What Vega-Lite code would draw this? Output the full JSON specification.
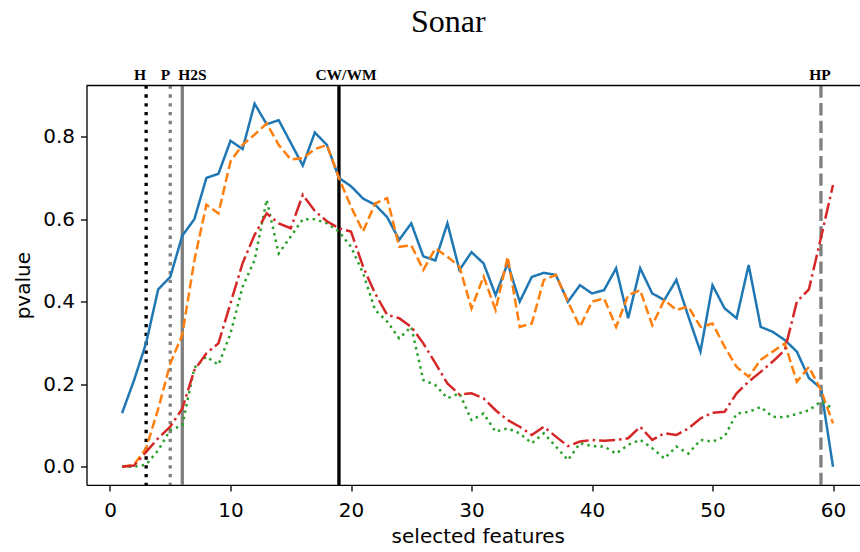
{
  "$schema": "https://vega.github.io/schema/vega-lite/v6.json",
  "autosize": "none",
  "width": 773.5,
  "height": 399.4,
  "padding": {"left": 86.5, "top": 85.5, "right": 0, "bottom": 67.1},
  "background": "white",
  "config": {
    "view": {"stroke": null},
    "axis": {
      "grid": false,
      "domainColor": "black",
      "domainWidth": 1.33,
      "tickColor": "black",
      "tickWidth": 1.33,
      "tickSize": 6,
      "labelFont": "DejaVu Sans",
      "labelFontSize": 20,
      "labelColor": "black",
      "titleFont": "DejaVu Sans",
      "titleFontSize": 20,
      "titleFontWeight": "normal",
      "titleColor": "black"
    }
  },
  "title": {
    "text": "Sonar",
    "font": "Liberation Serif",
    "fontSize": 32,
    "fontWeight": "normal",
    "color": "black",
    "anchor": "middle",
    "frame": "group",
    "dx": -25,
    "dy": 30,
    "offset": 34,
    "baseline": "alphabetic"
  },
  "datasets": {
    "series": [
      {"k": 1, "s": "blue", "p": 0.13}, {"k": 2, "s": "blue", "p": 0.21}, {"k": 3, "s": "blue", "p": 0.30}, {"k": 4, "s": "blue", "p": 0.43}, {"k": 5, "s": "blue", "p": 0.46},
      {"k": 6, "s": "blue", "p": 0.56}, {"k": 7, "s": "blue", "p": 0.60}, {"k": 8, "s": "blue", "p": 0.70}, {"k": 9, "s": "blue", "p": 0.71}, {"k": 10, "s": "blue", "p": 0.79},
      {"k": 11, "s": "blue", "p": 0.77}, {"k": 12, "s": "blue", "p": 0.88}, {"k": 13, "s": "blue", "p": 0.83}, {"k": 14, "s": "blue", "p": 0.84}, {"k": 15, "s": "blue", "p": 0.785},
      {"k": 16, "s": "blue", "p": 0.73}, {"k": 17, "s": "blue", "p": 0.81}, {"k": 18, "s": "blue", "p": 0.78}, {"k": 19, "s": "blue", "p": 0.70}, {"k": 20, "s": "blue", "p": 0.68},
      {"k": 21, "s": "blue", "p": 0.65}, {"k": 22, "s": "blue", "p": 0.635}, {"k": 23, "s": "blue", "p": 0.605}, {"k": 24, "s": "blue", "p": 0.55}, {"k": 25, "s": "blue", "p": 0.59},
      {"k": 26, "s": "blue", "p": 0.51}, {"k": 27, "s": "blue", "p": 0.50}, {"k": 28, "s": "blue", "p": 0.59}, {"k": 29, "s": "blue", "p": 0.477}, {"k": 30, "s": "blue", "p": 0.52},
      {"k": 31, "s": "blue", "p": 0.493}, {"k": 32, "s": "blue", "p": 0.416}, {"k": 33, "s": "blue", "p": 0.493}, {"k": 34, "s": "blue", "p": 0.40}, {"k": 35, "s": "blue", "p": 0.46},
      {"k": 36, "s": "blue", "p": 0.47}, {"k": 37, "s": "blue", "p": 0.465}, {"k": 38, "s": "blue", "p": 0.40}, {"k": 39, "s": "blue", "p": 0.44}, {"k": 40, "s": "blue", "p": 0.42},
      {"k": 41, "s": "blue", "p": 0.428}, {"k": 42, "s": "blue", "p": 0.481}, {"k": 43, "s": "blue", "p": 0.36}, {"k": 44, "s": "blue", "p": 0.481}, {"k": 45, "s": "blue", "p": 0.42},
      {"k": 46, "s": "blue", "p": 0.404}, {"k": 47, "s": "blue", "p": 0.453}, {"k": 48, "s": "blue", "p": 0.364}, {"k": 49, "s": "blue", "p": 0.279}, {"k": 50, "s": "blue", "p": 0.44},
      {"k": 51, "s": "blue", "p": 0.384}, {"k": 52, "s": "blue", "p": 0.36}, {"k": 53, "s": "blue", "p": 0.489}, {"k": 54, "s": "blue", "p": 0.339}, {"k": 55, "s": "blue", "p": 0.327},
      {"k": 56, "s": "blue", "p": 0.307}, {"k": 57, "s": "blue", "p": 0.279}, {"k": 58, "s": "blue", "p": 0.215}, {"k": 59, "s": "blue", "p": 0.19}, {"k": 60, "s": "blue", "p": 0.0},

      {"k": 1, "s": "orange", "p": 0.0}, {"k": 2, "s": "orange", "p": 0.005}, {"k": 3, "s": "orange", "p": 0.045}, {"k": 4, "s": "orange", "p": 0.14}, {"k": 5, "s": "orange", "p": 0.25},
      {"k": 6, "s": "orange", "p": 0.32}, {"k": 7, "s": "orange", "p": 0.50}, {"k": 8, "s": "orange", "p": 0.635}, {"k": 9, "s": "orange", "p": 0.614}, {"k": 10, "s": "orange", "p": 0.74},
      {"k": 11, "s": "orange", "p": 0.78}, {"k": 12, "s": "orange", "p": 0.805}, {"k": 13, "s": "orange", "p": 0.832}, {"k": 14, "s": "orange", "p": 0.78}, {"k": 15, "s": "orange", "p": 0.745},
      {"k": 16, "s": "orange", "p": 0.748}, {"k": 17, "s": "orange", "p": 0.77}, {"k": 18, "s": "orange", "p": 0.78}, {"k": 19, "s": "orange", "p": 0.70}, {"k": 20, "s": "orange", "p": 0.63},
      {"k": 21, "s": "orange", "p": 0.57}, {"k": 22, "s": "orange", "p": 0.638}, {"k": 23, "s": "orange", "p": 0.651}, {"k": 24, "s": "orange", "p": 0.533}, {"k": 25, "s": "orange", "p": 0.537},
      {"k": 26, "s": "orange", "p": 0.477}, {"k": 27, "s": "orange", "p": 0.529}, {"k": 28, "s": "orange", "p": 0.509}, {"k": 29, "s": "orange", "p": 0.485}, {"k": 30, "s": "orange", "p": 0.384},
      {"k": 31, "s": "orange", "p": 0.461}, {"k": 32, "s": "orange", "p": 0.38}, {"k": 33, "s": "orange", "p": 0.509}, {"k": 34, "s": "orange", "p": 0.339}, {"k": 35, "s": "orange", "p": 0.347},
      {"k": 36, "s": "orange", "p": 0.453}, {"k": 37, "s": "orange", "p": 0.465}, {"k": 38, "s": "orange", "p": 0.40}, {"k": 39, "s": "orange", "p": 0.339}, {"k": 40, "s": "orange", "p": 0.40},
      {"k": 41, "s": "orange", "p": 0.408}, {"k": 42, "s": "orange", "p": 0.339}, {"k": 43, "s": "orange", "p": 0.416}, {"k": 44, "s": "orange", "p": 0.428}, {"k": 45, "s": "orange", "p": 0.343},
      {"k": 46, "s": "orange", "p": 0.404}, {"k": 47, "s": "orange", "p": 0.38}, {"k": 48, "s": "orange", "p": 0.388}, {"k": 49, "s": "orange", "p": 0.339}, {"k": 50, "s": "orange", "p": 0.347},
      {"k": 51, "s": "orange", "p": 0.291}, {"k": 52, "s": "orange", "p": 0.242}, {"k": 53, "s": "orange", "p": 0.218}, {"k": 54, "s": "orange", "p": 0.259}, {"k": 55, "s": "orange", "p": 0.279},
      {"k": 56, "s": "orange", "p": 0.299}, {"k": 57, "s": "orange", "p": 0.206}, {"k": 58, "s": "orange", "p": 0.242}, {"k": 59, "s": "orange", "p": 0.186}, {"k": 60, "s": "orange", "p": 0.105},

      {"k": 1, "s": "green", "p": 0.0}, {"k": 2, "s": "green", "p": 0.0}, {"k": 3, "s": "green", "p": 0.005}, {"k": 4, "s": "green", "p": 0.04}, {"k": 5, "s": "green", "p": 0.089},
      {"k": 6, "s": "green", "p": 0.10}, {"k": 7, "s": "green", "p": 0.24}, {"k": 8, "s": "green", "p": 0.267}, {"k": 9, "s": "green", "p": 0.247}, {"k": 10, "s": "green", "p": 0.323},
      {"k": 11, "s": "green", "p": 0.436}, {"k": 12, "s": "green", "p": 0.501}, {"k": 13, "s": "green", "p": 0.647}, {"k": 14, "s": "green", "p": 0.517}, {"k": 15, "s": "green", "p": 0.558},
      {"k": 16, "s": "green", "p": 0.60}, {"k": 17, "s": "green", "p": 0.60}, {"k": 18, "s": "green", "p": 0.59}, {"k": 19, "s": "green", "p": 0.57}, {"k": 20, "s": "green", "p": 0.533},
      {"k": 21, "s": "green", "p": 0.469}, {"k": 22, "s": "green", "p": 0.38}, {"k": 23, "s": "green", "p": 0.352}, {"k": 24, "s": "green", "p": 0.311}, {"k": 25, "s": "green", "p": 0.339},
      {"k": 26, "s": "green", "p": 0.21}, {"k": 27, "s": "green", "p": 0.198}, {"k": 28, "s": "green", "p": 0.166}, {"k": 29, "s": "green", "p": 0.178}, {"k": 30, "s": "green", "p": 0.113},
      {"k": 31, "s": "green", "p": 0.129}, {"k": 32, "s": "green", "p": 0.085}, {"k": 33, "s": "green", "p": 0.093}, {"k": 34, "s": "green", "p": 0.081}, {"k": 35, "s": "green", "p": 0.057},
      {"k": 36, "s": "green", "p": 0.081}, {"k": 37, "s": "green", "p": 0.049}, {"k": 38, "s": "green", "p": 0.016}, {"k": 39, "s": "green", "p": 0.057}, {"k": 40, "s": "green", "p": 0.05},
      {"k": 41, "s": "green", "p": 0.049}, {"k": 42, "s": "green", "p": 0.032}, {"k": 43, "s": "green", "p": 0.053}, {"k": 44, "s": "green", "p": 0.065}, {"k": 45, "s": "green", "p": 0.045},
      {"k": 46, "s": "green", "p": 0.02}, {"k": 47, "s": "green", "p": 0.049}, {"k": 48, "s": "green", "p": 0.032}, {"k": 49, "s": "green", "p": 0.065}, {"k": 50, "s": "green", "p": 0.061},
      {"k": 51, "s": "green", "p": 0.073}, {"k": 52, "s": "green", "p": 0.129}, {"k": 53, "s": "green", "p": 0.133}, {"k": 54, "s": "green", "p": 0.145}, {"k": 55, "s": "green", "p": 0.121},
      {"k": 56, "s": "green", "p": 0.12}, {"k": 57, "s": "green", "p": 0.128}, {"k": 58, "s": "green", "p": 0.137}, {"k": 59, "s": "green", "p": 0.158}, {"k": 60, "s": "green", "p": 0.141},

      {"k": 1, "s": "red", "p": 0.0}, {"k": 2, "s": "red", "p": 0.003}, {"k": 3, "s": "red", "p": 0.036}, {"k": 4, "s": "red", "p": 0.069}, {"k": 5, "s": "red", "p": 0.097},
      {"k": 6, "s": "red", "p": 0.141}, {"k": 7, "s": "red", "p": 0.234}, {"k": 8, "s": "red", "p": 0.275}, {"k": 9, "s": "red", "p": 0.299}, {"k": 10, "s": "red", "p": 0.396},
      {"k": 11, "s": "red", "p": 0.493}, {"k": 12, "s": "red", "p": 0.562}, {"k": 13, "s": "red", "p": 0.614}, {"k": 14, "s": "red", "p": 0.59}, {"k": 15, "s": "red", "p": 0.578},
      {"k": 16, "s": "red", "p": 0.659}, {"k": 17, "s": "red", "p": 0.62}, {"k": 18, "s": "red", "p": 0.595}, {"k": 19, "s": "red", "p": 0.578}, {"k": 20, "s": "red", "p": 0.57},
      {"k": 21, "s": "red", "p": 0.485}, {"k": 22, "s": "red", "p": 0.42}, {"k": 23, "s": "red", "p": 0.368}, {"k": 24, "s": "red", "p": 0.36}, {"k": 25, "s": "red", "p": 0.339},
      {"k": 26, "s": "red", "p": 0.299}, {"k": 27, "s": "red", "p": 0.251}, {"k": 28, "s": "red", "p": 0.202}, {"k": 29, "s": "red", "p": 0.175}, {"k": 30, "s": "red", "p": 0.178},
      {"k": 31, "s": "red", "p": 0.166}, {"k": 32, "s": "red", "p": 0.137}, {"k": 33, "s": "red", "p": 0.113}, {"k": 34, "s": "red", "p": 0.097}, {"k": 35, "s": "red", "p": 0.077},
      {"k": 36, "s": "red", "p": 0.097}, {"k": 37, "s": "red", "p": 0.073}, {"k": 38, "s": "red", "p": 0.05}, {"k": 39, "s": "red", "p": 0.061}, {"k": 40, "s": "red", "p": 0.065},
      {"k": 41, "s": "red", "p": 0.063}, {"k": 42, "s": "red", "p": 0.065}, {"k": 43, "s": "red", "p": 0.069}, {"k": 44, "s": "red", "p": 0.097}, {"k": 45, "s": "red", "p": 0.065},
      {"k": 46, "s": "red", "p": 0.081}, {"k": 47, "s": "red", "p": 0.077}, {"k": 48, "s": "red", "p": 0.093}, {"k": 49, "s": "red", "p": 0.117}, {"k": 50, "s": "red", "p": 0.131},
      {"k": 51, "s": "red", "p": 0.133}, {"k": 52, "s": "red", "p": 0.178}, {"k": 53, "s": "red", "p": 0.206}, {"k": 54, "s": "red", "p": 0.23}, {"k": 55, "s": "red", "p": 0.255},
      {"k": 56, "s": "red", "p": 0.283}, {"k": 57, "s": "red", "p": 0.40}, {"k": 58, "s": "red", "p": 0.43}, {"k": 59, "s": "red", "p": 0.555}, {"k": 60, "s": "red", "p": 0.683}
    ],
    "vlines": [
      {"name": "H", "k": 3},
      {"name": "P", "k": 5},
      {"name": "H2S", "k": 6},
      {"name": "CW/WM", "k": 19},
      {"name": "HP", "k": 59}
    ],
    "frame": [{"edge": "top", "p": 0.924}]
  },
  "resolve": {"scale": {"color": "independent", "strokeDash": "independent"}},
  "layer": [
    {
      "data": {"name": "vlines"},
      "mark": {"type": "rule", "strokeWidth": 3.33},
      "encoding": {
        "x": {"field": "k", "type": "quantitative"},
        "color": {"field": "name", "type": "nominal", "legend": null,
          "scale": {"domain": ["H", "P", "H2S", "CW/WM", "HP"], "range": ["#000000", "#808080", "#808080", "#000000", "#808080"]}},
        "strokeDash": {"field": "name", "type": "nominal", "legend": null,
          "scale": {"domain": ["H", "P", "H2S", "CW/WM", "HP"], "range": [[3.33, 5.5], [3.33, 5.5], [1, 0], [1, 0], [12.3, 5.3]]}}
      }
    },
    {
      "data": {"name": "series"},
      "mark": {"type": "line", "strokeWidth": 2.5, "clip": true},
      "encoding": {
        "x": {"field": "k", "type": "quantitative",
          "scale": {"domain": [-1.95, 62.24], "nice": false, "zero": false},
          "axis": {"values": [0, 10, 20, 30, 40, 50, 60], "title": "selected features", "labelPadding": 10, "titleX": 391.3, "titleY": 58, "titleBaseline": "alphabetic", "titleAlign": "center"}},
        "y": {"field": "p", "type": "quantitative",
          "scale": {"domain": [-0.044, 0.924], "nice": false, "zero": false},
          "axis": {"values": [0, 0.2, 0.4, 0.6, 0.8], "format": ".1f", "title": "pvalue", "labelPadding": 6, "titleAngle": 270, "titleX": -57.5, "titleBaseline": "alphabetic", "titleAlign": "center"}},
        "color": {"field": "s", "type": "nominal", "legend": null,
          "scale": {"domain": ["blue", "orange", "green", "red"], "range": ["#1f77b4", "#ff7f0e", "#2ca02c", "#d62728"]}},
        "strokeDash": {"field": "s", "type": "nominal", "legend": null,
          "scale": {"domain": ["blue", "orange", "green", "red"], "range": [[1, 0], [9.25, 4], [2.5, 4.1], [16, 4, 2.5, 4]]}},
        "order": {"field": "k", "type": "quantitative"}
      }
    },
    {
      "data": {"name": "frame"},
      "mark": {"type": "rule", "color": "black", "strokeWidth": 1.33},
      "encoding": {"y": {"field": "p", "type": "quantitative"}}
    },
    {
      "data": {"name": "vlines"},
      "transform": [{"filter": "datum.name === 'H' || datum.name === 'P'"}],
      "mark": {"type": "text", "font": "Liberation Serif", "fontWeight": "bold", "fontSize": 15.5, "align": "right", "baseline": "alphabetic", "dy": -5.5, "dx": 0, "color": "black"},
      "encoding": {"x": {"field": "k", "type": "quantitative"}, "y": {"datum": 0.924}, "text": {"field": "name"}}
    },
    {
      "data": {"name": "vlines"},
      "transform": [{"filter": "datum.name === 'H2S'"}],
      "mark": {"type": "text", "font": "Liberation Serif", "fontWeight": "bold", "fontSize": 15.5, "align": "left", "baseline": "alphabetic", "dy": -5.5, "dx": -4, "color": "black"},
      "encoding": {"x": {"field": "k", "type": "quantitative"}, "y": {"datum": 0.924}, "text": {"field": "name"}}
    },
    {
      "data": {"name": "vlines"},
      "transform": [{"filter": "datum.name === 'CW/WM'"}],
      "mark": {"type": "text", "font": "Liberation Serif", "fontWeight": "bold", "fontSize": 15.5, "align": "center", "baseline": "alphabetic", "dy": -5.5, "dx": 7, "color": "black"},
      "encoding": {"x": {"field": "k", "type": "quantitative"}, "y": {"datum": 0.924}, "text": {"field": "name"}}
    },
    {
      "data": {"name": "vlines"},
      "transform": [{"filter": "datum.name === 'HP'"}],
      "mark": {"type": "text", "font": "Liberation Serif", "fontWeight": "bold", "fontSize": 15.5, "align": "center", "baseline": "alphabetic", "dy": -5.5, "dx": -1, "color": "black"},
      "encoding": {"x": {"field": "k", "type": "quantitative"}, "y": {"datum": 0.924}, "text": {"field": "name"}}
    }
  ]
}
